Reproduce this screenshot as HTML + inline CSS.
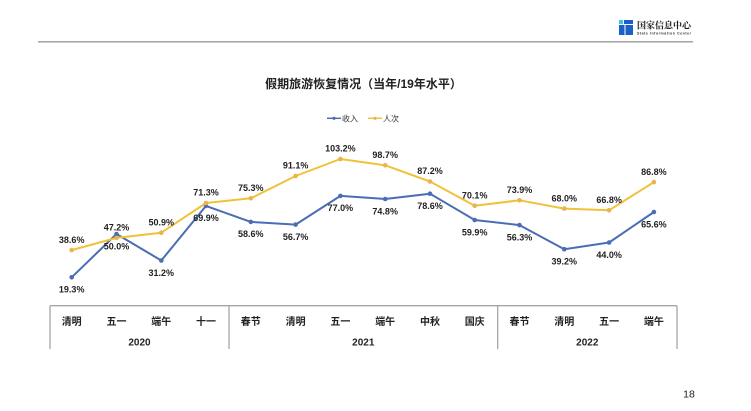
<!DOCTYPE html>
<html><head><meta charset="utf-8"><style>
html,body{margin:0;padding:0;background:#fff;}
svg{display:block;}
</style></head><body>
<svg width="751" height="411" viewBox="0 0 751 411" xmlns="http://www.w3.org/2000/svg" font-family="'Liberation Sans','Noto Sans CJK SC',sans-serif">
<!-- header logo -->
<rect x="619" y="20" width="4" height="4" fill="#3cc6e6"/>
<rect x="624" y="20" width="9" height="4" fill="#1b5fc9"/>
<rect x="619" y="25" width="5.5" height="10" fill="#1b5fc9"/>
<rect x="625.5" y="25" width="7.5" height="10" fill="#1b5fc9"/>
<text x="637" y="28.5" font-family="'Noto Serif CJK SC',serif" font-weight="bold" font-size="9" fill="#1a1a1a" textLength="54">国家信息中心</text>
<text x="637" y="34.5" font-size="3.6" font-weight="bold" fill="#333" textLength="54">State Information Center</text>
<line x1="38" y1="41.8" x2="693" y2="41.8" stroke="#9a9a9a" stroke-width="1.4"/>

<!-- title -->
<text x="363.5" y="88" text-anchor="middle" font-weight="bold" font-size="12" fill="#222">假期旅游恢复情况（当年/19年水平）</text>

<!-- legend -->
<line x1="327" y1="118.3" x2="341" y2="118.3" stroke="#4a6db5" stroke-width="1.5"/>
<circle cx="334" cy="118.3" r="1.6" fill="#4a6db5"/>
<text x="342" y="121.3" font-size="8" fill="#333">收入</text>
<line x1="368" y1="118.3" x2="382" y2="118.3" stroke="#f0c23a" stroke-width="1.5"/>
<circle cx="375" cy="118.3" r="1.6" fill="#e9b44c"/>
<text x="383" y="121.3" font-size="8" fill="#333">人次</text>

<!-- blue series -->
<polyline fill="none" stroke="#4a6db5" stroke-width="2" stroke-linejoin="round"
points="71.7,277.3 116.5,234.0 161.3,260.5 206.0,205.9 250.8,221.9 295.6,224.6 340.4,195.9 385.2,199.0 430.0,193.7 474.7,220.0 519.5,225.1 564.3,249.2 609.1,242.5 653.9,212.0"/>
<g fill="#4a6db5">
<circle cx="71.7" cy="277.3" r="2.3"/><circle cx="116.5" cy="234.0" r="2.3"/><circle cx="161.3" cy="260.5" r="2.3"/><circle cx="206.0" cy="205.9" r="2.3"/><circle cx="250.8" cy="221.9" r="2.3"/><circle cx="295.6" cy="224.6" r="2.3"/><circle cx="340.4" cy="195.9" r="2.3"/><circle cx="385.2" cy="199.0" r="2.3"/><circle cx="430.0" cy="193.7" r="2.3"/><circle cx="474.7" cy="220.0" r="2.3"/><circle cx="519.5" cy="225.1" r="2.3"/><circle cx="564.3" cy="249.2" r="2.3"/><circle cx="609.1" cy="242.5" r="2.3"/><circle cx="653.9" cy="212.0" r="2.3"/>
</g>

<!-- yellow series -->
<polyline fill="none" stroke="#f0c23a" stroke-width="2" stroke-linejoin="round"
points="71.7,250.1 116.5,237.9 161.3,232.7 206.0,203.0 250.8,198.3 295.6,176.0 340.4,159.0 385.2,165.3 430.0,181.5 474.7,205.7 519.5,200.3 564.3,208.6 609.1,210.3 653.9,182.1"/>
<g fill="#e9b44c">
<circle cx="71.7" cy="250.1" r="2.3"/><circle cx="116.5" cy="237.9" r="2.3"/><circle cx="161.3" cy="232.7" r="2.3"/><circle cx="206.0" cy="203.0" r="2.3"/><circle cx="250.8" cy="198.3" r="2.3"/><circle cx="295.6" cy="176.0" r="2.3"/><circle cx="340.4" cy="159.0" r="2.3"/><circle cx="385.2" cy="165.3" r="2.3"/><circle cx="430.0" cy="181.5" r="2.3"/><circle cx="474.7" cy="205.7" r="2.3"/><circle cx="519.5" cy="200.3" r="2.3"/><circle cx="564.3" cy="208.6" r="2.3"/><circle cx="609.1" cy="210.3" r="2.3"/><circle cx="653.9" cy="182.1" r="2.3"/>
</g>

<!-- labels -->
<g font-size="9" font-weight="bold" fill="#222" text-anchor="middle">
<text x="71.7" y="292.6">19.3%</text>
<text x="116.5" y="249.3">50.0%</text>
<text x="161.3" y="275.8">31.2%</text>
<text x="206.0" y="221.2">69.9%</text>
<text x="250.8" y="237.2">58.6%</text>
<text x="295.6" y="239.9">56.7%</text>
<text x="340.4" y="211.2">77.0%</text>
<text x="385.2" y="214.3">74.8%</text>
<text x="430.0" y="209.0">78.6%</text>
<text x="474.7" y="235.3">59.9%</text>
<text x="519.5" y="240.4">56.3%</text>
<text x="564.3" y="264.5">39.2%</text>
<text x="609.1" y="257.8">44.0%</text>
<text x="653.9" y="227.3">65.6%</text>

<text x="71.7" y="242.8">38.6%</text>
<text x="116.5" y="230.6">47.2%</text>
<text x="161.3" y="225.4">50.9%</text>
<text x="206.0" y="195.7">71.3%</text>
<text x="250.8" y="191.0">75.3%</text>
<text x="295.6" y="168.7">91.1%</text>
<text x="340.4" y="151.7">103.2%</text>
<text x="385.2" y="158.0">98.7%</text>
<text x="430.0" y="174.2">87.2%</text>
<text x="474.7" y="198.4">70.1%</text>
<text x="519.5" y="193.0">73.9%</text>
<text x="564.3" y="201.3">68.0%</text>
<text x="609.1" y="203.0">66.8%</text>
<text x="653.9" y="174.8">86.8%</text>
</g>

<!-- category table -->
<g stroke="#a6a6a6" stroke-width="1.3">
<line x1="50" y1="305.7" x2="677" y2="305.7"/>
<line x1="50" y1="305.7" x2="50" y2="349"/>
<line x1="229" y1="305.7" x2="229" y2="349"/>
<line x1="497.7" y1="305.7" x2="497.7" y2="349"/>
<line x1="677" y1="305.7" x2="677" y2="349"/>
</g>
<g font-size="10" font-weight="bold" fill="#222" text-anchor="middle">
<text x="71.7" y="324.8">清明</text>
<text x="116.5" y="324.8">五一</text>
<text x="161.3" y="324.8">端午</text>
<text x="206.0" y="324.8">十一</text>
<text x="250.8" y="324.8">春节</text>
<text x="295.6" y="324.8">清明</text>
<text x="340.4" y="324.8">五一</text>
<text x="385.2" y="324.8">端午</text>
<text x="430.0" y="324.8">中秋</text>
<text x="474.7" y="324.8">国庆</text>
<text x="519.5" y="324.8">春节</text>
<text x="564.3" y="324.8">清明</text>
<text x="609.1" y="324.8">五一</text>
<text x="653.9" y="324.8">端午</text>
<text x="139.5" y="345.6">2020</text>
<text x="363.3" y="345.6">2021</text>
<text x="587.3" y="345.6">2022</text>
</g>

<text x="689" y="397.5" text-anchor="middle" font-size="10.5" fill="#222">18</text>
</svg>
</body></html>
